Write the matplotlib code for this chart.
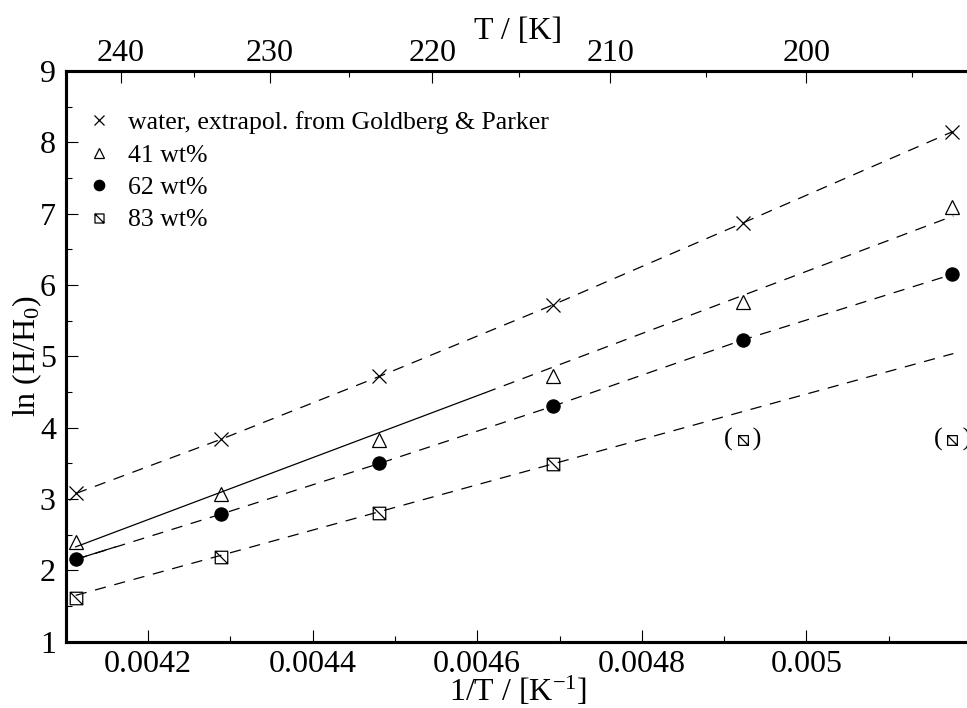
import numpy as np
import matplotlib
matplotlib.use("Agg")
import matplotlib.pyplot as plt
from matplotlib.path import Path
from matplotlib.lines import Line2D

plt.rcParams['font.family'] = ['Liberation Serif', 'DejaVu Serif']
plt.rcParams['mathtext.fontset'] = 'custom'
plt.rcParams['mathtext.rm'] = 'Liberation Serif'
plt.rcParams['mathtext.it'] = 'Liberation Serif:italic'

# temperatures of the measurements (K)
T = np.array([243.15, 233.15, 223.15, 213.15, 203.15, 193.15])
inv_T = 1.0 / T

water = [3.08, 3.84, 4.72, 5.72, 6.87, 8.15]
wt41 = [2.40, 3.07, 3.83, 4.72, 5.76, 7.09]
wt62 = [2.155, 2.79, 3.50, 4.30, 5.23, 6.15]
wt83 = [1.62, 2.19, 2.80, 3.49]
wt83_paren = [3.83, 3.83]

# straight fit lines (1/T, ln H/H0)
fit41_solid_x = [0.0041122, 0.0046095]
fit41_solid_y = [2.33, 4.49]
fit41_dash_x = [0.0046095, 0.0051785]
fit41_dash_y = [4.49, 6.97]
fit62_solid_x = [0.0041122, 0.00416]
fit62_solid_y = [2.155, 2.327]
fit83_x = [0.0041122, 0.0051785]
fit83_y = [1.65, 5.04]

T_major = [240, 230, 220, 210, 200]
T_minor = [235, 225, 215, 205, 195]

# square marker with a falling diagonal
sq_diag = Path([(-1, -1), (1, -1), (1, 1), (-1, 1), (-1, -1), (-1, 1), (1, -1)],
               [Path.MOVETO, Path.LINETO, Path.LINETO, Path.LINETO, Path.CLOSEPOLY,
                Path.MOVETO, Path.LINETO])

fig = plt.figure(figsize=(9.67, 7.08), dpi=100)
ax = fig.add_axes([0.0679, 0.0936, 0.9363, 0.806])

dash = dict(color='black', lw=0.9, linestyle=(0, (9, 7)))
ax.plot(inv_T, water, **dash)
ax.plot(inv_T, wt62, **dash)
ax.plot(fit83_x, fit83_y, **dash)
ax.plot(fit41_dash_x, fit41_dash_y, **dash)
ax.plot(fit41_solid_x, fit41_solid_y, color='black', lw=0.9)
ax.plot(fit62_solid_x, fit62_solid_y, color='black', lw=0.9)

mk = dict(linestyle='none', color='black', markeredgewidth=0.9)
ax.plot(inv_T, water, marker='x', ms=9.5, **mk)
ax.plot(inv_T, wt41, marker='^', ms=9.5, markerfacecolor='none', **mk)
ax.plot(inv_T, wt62, marker='o', ms=9.5, **mk)
ax.plot(inv_T[:4], wt83, marker=sq_diag, ms=9, markerfacecolor='none', **mk)

# uncertain 83 wt% values, shown in parentheses
ax.plot(inv_T[4:], wt83_paren, marker=sq_diag, ms=7, markerfacecolor='none', **mk)
for xp, yp in zip(inv_T[4:], wt83_paren):
    ax.text(xp, yp, "(   )", ha='center', va='center', fontsize=19)

ax.set_xlim(0.0041, 0.0052)
ax.set_ylim(1, 9)
ax.set_xticks([0.0042, 0.0044, 0.0046, 0.0048, 0.005])
ax.set_xticklabels(['0.0042', '0.0044', '0.0046', '0.0048', '0.005'])
ax.set_xticks([0.0043, 0.0045, 0.0047, 0.0049, 0.0051], minor=True)
ax.set_yticks(range(1, 10))
ax.set_yticks(np.arange(1.5, 9, 1.0), minor=True)

for s in ax.spines.values():
    s.set_linewidth(2.2)
ax.tick_params(which='both', direction='in', top=False, right=False, width=0.8)
ax.tick_params(which='major', length=8.5, labelsize=23)
ax.tick_params(which='minor', length=4.5)
ax.tick_params(axis='x', pad=6)
ax.tick_params(axis='y', pad=7)

ax.set_xlabel('1/T / [K$^{-1}$]', fontsize=23, labelpad=-3)
ax.set_ylabel('ln (H/H$_0$)', fontsize=23, labelpad=-3)

# top temperature axis
ax2 = ax.twiny()
ax2.set_xlim(ax.get_xlim())
ax2.set_xticks(1.0 / np.array(T_major, dtype=float))
ax2.set_xticklabels([str(t) for t in T_major])
ax2.set_xticks(1.0 / np.array(T_minor, dtype=float), minor=True)
ax2.tick_params(which='both', direction='in', width=0.8)
ax2.tick_params(which='major', length=8.5, labelsize=23, pad=2)
ax2.tick_params(which='minor', length=4.5)
for s in ax2.spines.values():
    s.set_linewidth(2.2)
ax2.set_xlabel('T / [K]', fontsize=23, labelpad=0)

handles = [
    Line2D([], [], marker='x', ms=7.5, **mk),
    Line2D([], [], marker='^', ms=7.5, markerfacecolor='none', **mk),
    Line2D([], [], marker='o', ms=7.5, **mk),
    Line2D([], [], marker=sq_diag, ms=6.5, markerfacecolor='none', **mk),
]
labels = ['water, extrapol. from Goldberg & Parker', '41 wt%', '62 wt%', '83 wt%']
ax.legend(handles, labels, loc='upper left', bbox_to_anchor=(0.023, 0.93),
          frameon=False, fontsize=18.5, handlelength=1.0, handletextpad=0.6,
          labelspacing=0.37, borderpad=0, borderaxespad=0)

fig.savefig('out.png', dpi=100)
